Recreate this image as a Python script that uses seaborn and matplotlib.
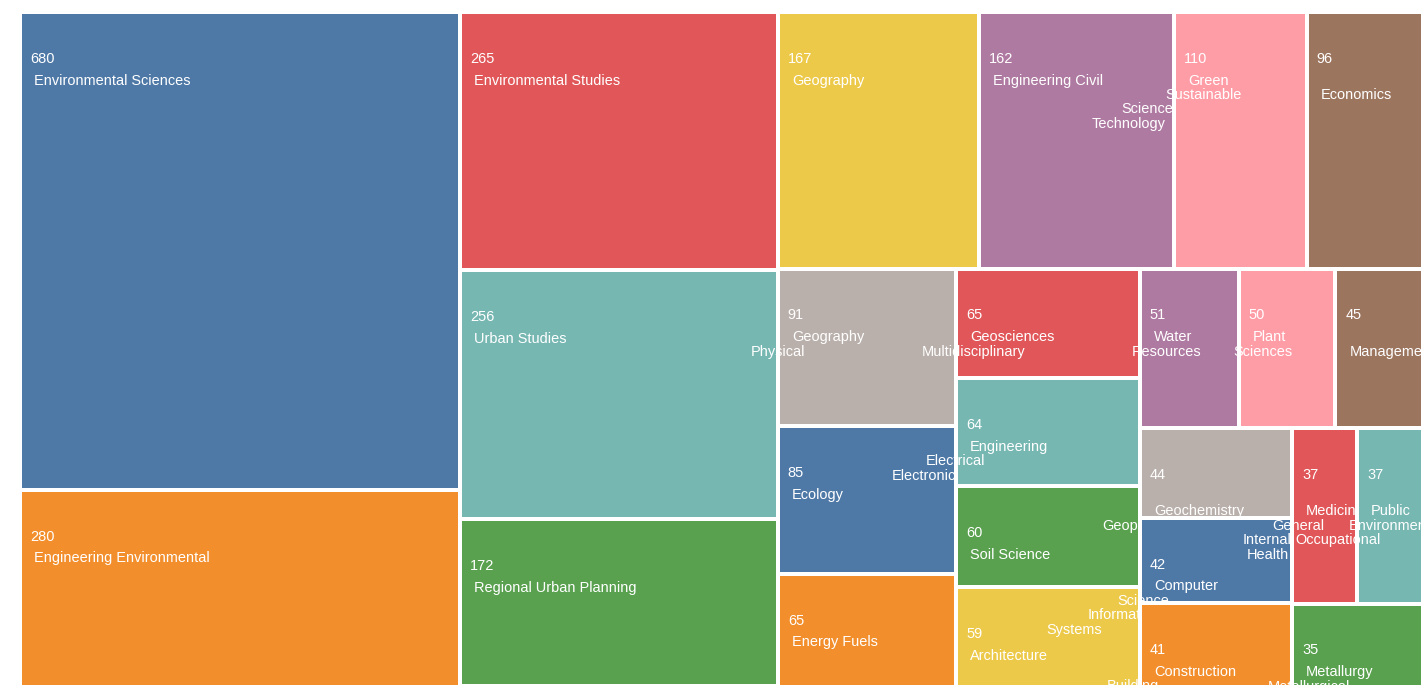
import matplotlib
matplotlib.use("Agg")
import matplotlib.pyplot as plt
import seaborn as sns
import numpy as np
from matplotlib.font_manager import FontProperties

# ---------------- data ----------------
categories = [
    "Environmental Sciences", "Engineering Environmental", "Environmental Studies",
    "Urban Studies", "Regional Urban Planning", "Geography", "Engineering Civil",
    "Green Sustainable Science Technology", "Economics", "Geography Physical",
    "Ecology", "Energy Fuels", "Geosciences Multidisciplinary",
    "Engineering Electrical Electronic", "Soil Science", "Architecture",
    "Water Resources", "Plant Sciences", "Management", "Geochemistry Geophysics",
    "Computer Science Information Systems", "Construction Building Technology",
    "Medicine General Internal", "Public Environmental Occupational Health",
    "Metallurgy Metallurgical Engineering",
]
counts = [680, 280, 265, 256, 172, 167, 162, 110, 96, 91, 85, 65, 65, 64, 60,
          59, 51, 50, 45, 44, 42, 41, 37, 37, 35]
palette_hex = ["#4e79a7", "#f28e2c", "#e15759", "#76b7b2", "#59a14f",
               "#edc949", "#af7aa1", "#ff9da7", "#9c755f", "#bab0ab"]

# ---------------- style ----------------
sns.set_theme(style="white")
plt.rcParams["font.family"] = ["Liberation Sans", "DejaVu Sans"]
colors = sns.color_palette(palette_hex)

W_PX, H_PX, DPI = 1428, 699, 100
SVG_W, SVG_H = 1421, 686          # drawable (clipping) area in px
ROOT = (22.0, 14.0, 1420.5, 684.5)  # treemap extent in px
PAD = 4.0
FS_PX = 14.5
FS_PT = FS_PX * 72 / DPI
LINE_H = 14.4


def squarify(values, x0, y0, x1, y1, ratio=(1 + 5 ** 0.5) / 2):
    """d3.treemapSquarify (golden ratio) on an ordered list of values."""
    rects = [None] * len(values)
    n = len(values)
    total = float(sum(values))
    i0 = 0
    while i0 < n:
        dx, dy = x1 - x0, y1 - y0
        i1 = i0
        s = values[i1]
        i1 += 1
        mn = mx = s
        alpha = max(dy / dx, dx / dy) / (total * ratio)
        beta = s * s * alpha
        min_ratio = max(mx / beta, beta / mn)
        while i1 < n:
            v = values[i1]
            s2 = s + v
            mn2, mx2 = min(mn, v), max(mx, v)
            beta = s2 * s2 * alpha
            r = max(mx2 / beta, beta / mn2)
            if r > min_ratio:
                break
            s, mn, mx, min_ratio = s2, mn2, mx2, r
            i1 += 1
        if dx < dy:
            yy = y0 + dy * s / total
            xx = x0
            for i in range(i0, i1):
                w = dx * values[i] / s
                rects[i] = (xx, y0, xx + w, yy)
                xx += w
            y0 = yy
        else:
            xx = x0 + dx * s / total
            yy = y0
            for i in range(i0, i1):
                h = dy * values[i] / s
                rects[i] = (x0, yy, xx, yy + h)
                yy += h
            x0 = xx
        total -= s
        i0 = i1
    return rects


fig = plt.figure(figsize=(W_PX / DPI, H_PX / DPI), dpi=DPI)
ax = fig.add_axes([0, (H_PX - SVG_H) / H_PX, SVG_W / W_PX, SVG_H / H_PX])
ax.set_xlim(0, SVG_W)
ax.set_ylim(SVG_H, 0)
ax.axis("off")

renderer = fig.canvas.get_renderer()
prop = FontProperties(family=["Liberation Sans"], size=FS_PT)


def text_w(s):
    if not s:
        return 0.0
    w, h, d = renderer.get_text_width_height_descent(s, prop, ismath=False)
    return w


def wrap(name, limit):
    words = name.split()
    lines = []
    line = []
    for word in words:
        line.append(word)
        if text_w(" ".join(line)) > limit:
            line.pop()
            lines.append(" ".join(line))
            line = [word]
    lines.append(" ".join(line))
    return lines


p = PAD / 2
rects = squarify(counts, ROOT[0] - p, ROOT[1] - p, ROOT[2] + p, ROOT[3] + p)

for i, (name, val) in enumerate(zip(categories, counts)):
    x0, y0, x1, y1 = rects[i]
    x0, y0, x1, y1 = x0 + p, y0 + p, x1 - p, y1 - p
    cw = x1 - x0
    ax.bar(x0, y1 - y0, width=cw, bottom=y0, align="edge",
           color=colors[i % len(colors)], linewidth=0, zorder=2 + 2 * i)
    ax.text(x0 + 8, y0 + 48.8, str(val), color="white", fontsize=FS_PT,
            va="baseline", ha="left", zorder=3 + 2 * i, clip_on=True)
    lines = wrap(name, 0.59 * cw)
    lx = x0 + 12.0
    for k, ln in enumerate(lines):
        if k > 0:
            lx -= 0.57 * text_w(lines[k - 1])
        if ln:
            ax.text(lx, y0 + 70.6 + LINE_H * k, ln, color="white", fontsize=FS_PT,
                    va="baseline", ha="left", zorder=3 + 2 * i, clip_on=True)

fig.savefig("out.png", dpi=DPI, facecolor="white")
